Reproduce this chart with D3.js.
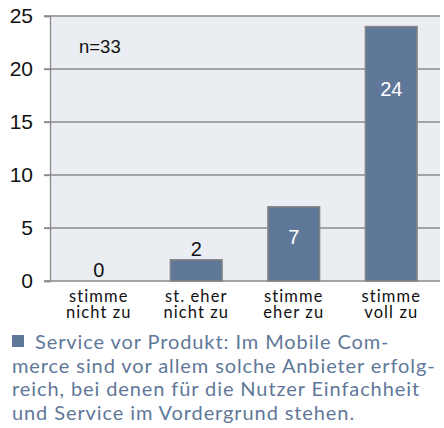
<!DOCTYPE html>
<html>
<head>
<meta charset="utf-8">
<script src="https://cdn.jsdelivr.net/npm/d3@7"></script>
<style>
  body { margin: 0; background: #fff; }
  svg { display: block; }
</style>
</head>
<body>
<div id="chart"></div>
<script>
const categories = [["stimme", "nicht zu"], ["st. eher", "nicht zu"], ["stimme", "eher zu"], ["stimme", "voll zu"]];
const values = [0, 2, 7, 24];
const yTicks = [0, 5, 10, 15, 20, 25];
const sampleNote = "n=33";
const captionLines = [
  "Service vor Produkt: Im Mobile Com-",
  "merce sind vor allem solche Anbieter erfolg-",
  "reich, bei denen für die Nutzer Einfachheit",
  "und Service im Vordergrund  stehen."
];

const W = 444, H = 428;
const plot = { left: 50, right: 440, top: 16, bottom: 281 };
const barColor = "#5f7899";

const svg = d3.select("#chart").append("svg")
  .attr("width", W).attr("height", H);

const x = d3.scaleBand()
  .domain(d3.range(values.length))
  .range([plot.left, plot.right])
  .paddingInner(0.47).paddingOuter(0.235);

const y = d3.scaleLinear().domain([0, 25]).range([plot.bottom, plot.top]);

// plot background
svg.append("rect")
  .attr("x", plot.left).attr("y", plot.top)
  .attr("width", plot.right - plot.left).attr("height", plot.bottom - plot.top)
  .attr("fill", "#eaedf1");

// grid lines
svg.append("g").selectAll("line").data(yTicks).join("line")
  .attr("x1", plot.left - 6).attr("x2", plot.right)
  .attr("y1", d => y(d)).attr("y2", d => y(d))
  .attr("stroke", "#8a8a8a").attr("stroke-width", 1.3);

// y axis
const yAxis = svg.append("g")
  .attr("transform", `translate(${plot.left},0)`)
  .call(d3.axisLeft(y).tickValues(yTicks).tickSize(6).tickPadding(11));
yAxis.select(".domain").attr("stroke", "#8a8a8a").attr("stroke-width", 1.3);
yAxis.selectAll(".tick line").attr("stroke", "#8a8a8a").attr("stroke-width", 1.3);
yAxis.selectAll(".tick text")
  .attr("font-family", "'Liberation Sans', Arial, sans-serif")
  .attr("font-size", 21).attr("fill", "#111");

// bars
svg.append("g").selectAll("rect").data(values).join("rect")
  .attr("x", (d, i) => x(i))
  .attr("y", d => y(d))
  .attr("width", x.bandwidth())
  .attr("height", d => y(0) - y(d))
  .attr("fill", barColor)
  .attr("stroke", "#858585").attr("stroke-width", d => d > 0 ? 1.5 : 0);

// value labels
svg.append("g").selectAll("text").data(values).join("text")
  .attr("x", (d, i) => x(i) + x.bandwidth() / 2)
  .attr("y", d => {
    const h = y(0) - y(d);
    return d < 5 ? y(d) - 4 : y(d) + Math.min(62, h / 2 - 7) + 7;
  })
  .attr("text-anchor", "middle")
  .attr("font-family", "'Liberation Sans', Arial, sans-serif")
  .attr("font-size", 20)
  .attr("fill", d => d < 5 ? "#111" : "#fff")
  .text(d => d);

// n note
svg.append("text")
  .attr("x", 79).attr("y", 53)
  .attr("font-family", "'Liberation Sans', Arial, sans-serif")
  .attr("font-size", 18.5).attr("fill", "#111")
  .text(sampleNote);

// category labels
const cat = svg.append("g").selectAll("text").data(categories).join("text")
  .attr("text-anchor", "middle")
  .attr("font-family", "Lato, 'Open Sans', sans-serif")
  .attr("font-size", 16.5).attr("letter-spacing", 1.1).attr("fill", "#111")
  .attr("transform", (d, i) => `translate(${x(i) + x.bandwidth() / 2},0)`);
cat.selectAll("tspan").data(d => d).join("tspan")
  .attr("x", 0).attr("y", (d, j) => 302 + j * 16)
  .text(d => d);

// caption
svg.append("rect")
  .attr("x", 12).attr("y", 335).attr("width", 12).attr("height", 12)
  .attr("fill", barColor);
svg.append("g").selectAll("text").data(captionLines).join("text")
  .attr("x", (d, i) => i === 0 ? 35 : 12)
  .attr("y", (d, i) => 349 + i * 23.7)
  .attr("font-family", "Lato, 'Open Sans', sans-serif")
  .attr("font-size", 20).attr("letter-spacing", 0.9).attr("fill", barColor)
  .text(d => d);
</script>
</body>
</html>
